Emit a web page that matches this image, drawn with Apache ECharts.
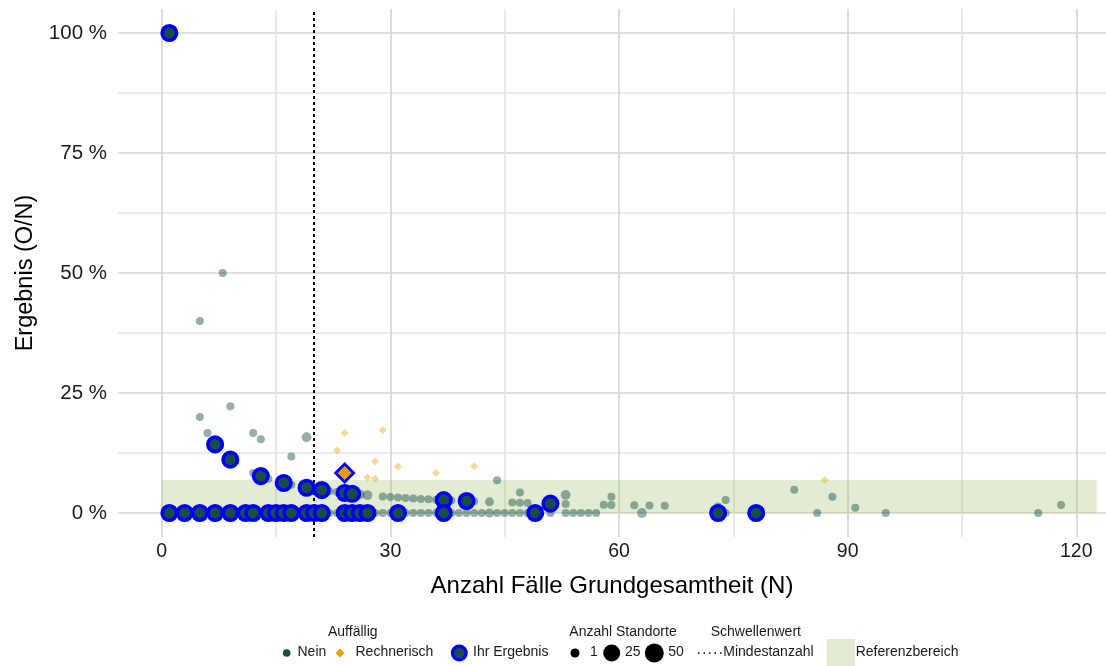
<!DOCTYPE html>
<html>
<head>
<meta charset="utf-8">
<script src="https://cdn.jsdelivr.net/npm/echarts@6/dist/echarts.min.js"></script>
<style>
html, body { margin: 0; padding: 0; background: #fff; }
#chart { width: 1106px; height: 666px; }
</style>
</head>
<body>
<div id="chart"></div>
<script>
// Achsen
var xTicks = [0, 15, 30, 45, 60, 75, 90, 105, 120];
var xLabels = [0, 30, 60, 90, 120];
var yTicks = [0, 12.5, 25, 37.5, 50, 62.5, 75, 87.5, 100];
var yLabels = [0, 25, 50, 75, 100];

// Schwellenwert und Referenzbereich
var mindestanzahl = 20;
var refLower = 0;
var refUpper = 6.9;
var refStartN = 0;
var refEndN = 122.7;

// andere Standorte, Auffällig = Nein
var otherN = [5, 8, 5, 9, 6, 12, 13, 19, 17, 12, 14, 17, 22, 23, 26, 27, 29, 30, 31, 32,
    33, 34, 35, 36, 38, 41, 43, 44, 46, 47, 47, 48, 53, 53, 58, 59, 59, 62, 64, 66,
    73, 74, 83, 88, 91, 118,
    1, 2, 3, 4, 5, 6, 7, 8, 9, 10, 11, 12, 13, 14, 15, 16, 17, 18, 19, 20, 21, 22, 23, 24,
    25, 26, 27, 28, 29, 30, 31, 32, 33, 34, 35, 36, 38, 39, 40, 41, 42, 43, 44, 45, 46, 47,
    48, 51, 53, 54, 55, 56, 57, 63, 74, 86, 95, 115];
var otherPct = [40, 50, 20, 22.22, 16.67, 16.67, 15.38, 15.79, 11.76, 8.33, 7.14, 5.88, 4.55, 4.35, 3.85, 3.7, 3.45, 3.33, 3.23, 3.13,
    3.03, 2.94, 2.86, 2.78, 2.63, 2.44, 2.33, 6.82, 2.17, 4.26, 2.13, 2.08, 3.77, 1.89, 1.72, 3.39, 1.69, 1.61, 1.56, 1.52,
    1.37, 2.7, 4.82, 3.41, 1.1, 1.69,
    0, 0, 0, 0, 0, 0, 0, 0, 0, 0, 0, 0, 0, 0, 0, 0, 0, 0, 0, 0, 0, 0, 0, 0,
    0, 0, 0, 0, 0, 0, 0, 0, 0, 0, 0, 0, 0, 0, 0, 0, 0, 0, 0, 0, 0, 0,
    0, 0, 0, 0, 0, 0, 0, 0, 0, 0, 0, 0];
var otherCount = [1, 1, 1, 1, 1, 1, 1, 3, 1, 1, 1, 1, 1, 1, 3, 3, 1, 1, 1, 1,
    1, 1, 1, 1, 1, 1, 2, 1, 1, 1, 1, 1, 3, 1, 1, 1, 1, 1, 1, 1,
    1, 1, 1, 1, 1, 1,
    1, 1, 1, 1, 1, 1, 1, 1, 1, 1, 1, 1, 1, 1, 1, 1, 1, 1, 1, 1, 1, 1, 1, 1,
    1, 1, 1, 1, 1, 1, 1, 1, 1, 1, 1, 1, 1, 1, 1, 1, 1, 2, 1, 1, 1, 1,
    1, 1, 1, 1, 1, 1, 1, 3, 1, 1, 1, 1];

// andere Standorte, rechnerisch auffällig
var rechnN = [23, 24, 28, 29, 31, 36, 27, 28, 41, 87];
var rechnPct = [13.04, 16.67, 10.71, 17.24, 9.68, 8.33, 7.41, 7.14, 9.76, 6.9];

// Ihr Ergebnis
var ownN = [1, 7, 9, 13, 16, 19, 21, 24, 25, 37, 40, 51,
    1, 3, 5, 7, 9, 11, 12, 14, 15, 16, 17, 19, 20, 21, 24, 25, 26, 27, 31, 37, 49, 73, 78,
    24];
var ownPct = [100, 14.29, 11.11, 7.69, 6.25, 5.26, 4.76, 4.17, 4, 2.7, 2.5, 1.96,
    0, 0, 0, 0, 0, 0, 0, 0, 0, 0, 0, 0, 0, 0, 0, 0, 0, 0, 0, 0, 0, 0, 0,
    8.33];
var ownFlag = ['Nein', 'Nein', 'Nein', 'Nein', 'Nein', 'Nein', 'Nein', 'Nein', 'Nein', 'Nein', 'Nein', 'Nein',
    'Nein', 'Nein', 'Nein', 'Nein', 'Nein', 'Nein', 'Nein', 'Nein', 'Nein', 'Nein', 'Nein', 'Nein', 'Nein',
    'Nein', 'Nein', 'Nein', 'Nein', 'Nein', 'Nein', 'Nein', 'Nein', 'Nein', 'Nein',
    'Rechnerisch'];

var colNein = '#184c45';
var colRechn = '#e69f00';
var colOwn = '#0000ff';
var font = 'Liberation Sans, Arial, sans-serif';

function zip(xs, ys) {
    return xs.map(function(x, i) { return [x, ys[i]]; });
}

function sizeOf(n) {
    return 5.6 + 2.4 * Math.sqrt(n);
}

var otherData = otherN.map(function(n, i) {
    return { value: [n, otherPct[i]], symbolSize: sizeOf(otherCount[i]) };
});

var ownData = ownN.map(function(n, i) {
    var r = ownFlag[i] === 'Rechnerisch';
    return {
        value: [n, ownPct[i]],
        symbol: r ? 'diamond' : 'circle',
        symbolSize: r ? 18 : 14.5,
        itemStyle: { color: r ? colRechn : colNein, borderColor: colOwn, borderWidth: r ? 2.8 : 3.6, opacity: 1 }
    };
});

var legendY = 653;
var titleY = 633;
var legendText = { fontSize: 14, fontFamily: font, fill: '#1a1a1a' };

function txt(x, y, s) {
    return { type: 'text', left: x, top: y - 8, style: Object.assign({ text: s }, legendText) };
}

var graphics = [
    txt(328, titleY, 'Auffällig'),
    { type: 'circle', shape: { cx: 286.7, cy: legendY, r: 3.8 }, style: { fill: colNein } },
    txt(297.5, legendY, 'Nein'),
    { type: 'polygon', shape: { points: [[340, legendY - 4.5], [344.5, legendY], [340, legendY + 4.5], [335.5, legendY]] }, style: { fill: colRechn } },
    txt(355.5, legendY, 'Rechnerisch'),
    { type: 'circle', shape: { cx: 459.3, cy: legendY, r: 6.9 }, style: { fill: colNein, stroke: colOwn, lineWidth: 3.2 } },
    txt(473, legendY, 'Ihr Ergebnis'),
    txt(569.3, titleY, 'Anzahl Standorte'),
    { type: 'circle', shape: { cx: 575, cy: legendY, r: 4.5 }, style: { fill: '#000' } },
    txt(590, legendY, '1'),
    { type: 'circle', shape: { cx: 611.7, cy: legendY, r: 8.5 }, style: { fill: '#000' } },
    txt(625, legendY, '25'),
    { type: 'circle', shape: { cx: 654.3, cy: legendY, r: 9.5 }, style: { fill: '#000' } },
    txt(668.3, legendY, '50'),
    txt(710.7, titleY, 'Schwellenwert'),
    { type: 'line', shape: { x1: 698, y1: legendY, x2: 722, y2: legendY }, style: { stroke: '#000', lineWidth: 1.5, lineDash: [1.5, 4] } },
    txt(723.3, legendY, 'Mindestanzahl'),
    { type: 'rect', shape: { x: 826.7, y: 639, width: 28.3, height: 27 }, style: { fill: 'rgba(158,192,108,0.3)' } },
    txt(855.7, legendY, 'Referenzbereich')
];

var chart = echarts.init(document.getElementById('chart'));
var option = {
    animation: false,
    backgroundColor: '#fff',
    textStyle: { fontFamily: font },
    grid: { left: 118, right: -6, top: 9, bottom: 129 },
    xAxis: {
        type: 'value',
        min: -5.74,
        max: 123.9,
        name: 'Anzahl Fälle Grundgesamtheit (N)',
        nameLocation: 'middle',
        nameGap: 37,
        nameTextStyle: { fontSize: 24, color: '#000', fontFamily: font },
        axisLine: { show: false },
        axisTick: { show: false, customValues: xTicks },
        axisLabel: { customValues: xLabels, fontSize: 19.5, color: '#1a1a1a', margin: 5, fontFamily: font },
        splitLine: { show: true, lineStyle: { color: ['#d4d4d4', '#e4e4e4'], width: 1.6 } }
    },
    yAxis: {
        type: 'value',
        min: -5,
        max: 105,
        name: 'Ergebnis (O/N)',
        nameLocation: 'middle',
        nameGap: 77,
        nameTextStyle: { fontSize: 23.5, color: '#000', fontFamily: font },
        axisLine: { show: false },
        axisTick: { show: false, customValues: yTicks },
        axisLabel: { customValues: yLabels, fontSize: 20.5, color: '#1a1a1a', margin: 11, fontFamily: font,
            formatter: function(v) { return v + ' %'; } },
        splitLine: { show: true, lineStyle: { color: ['#d4d4d4', '#e4e4e4'], width: 1.6 } }
    },
    graphic: graphics,
    series: [
        {
            name: 'Referenzbereich',
            type: 'scatter',
            data: [],
            z: 1,
            silent: true,
            markArea: {
                silent: true,
                itemStyle: { color: 'rgba(158,192,108,0.3)' },
                data: [[{ xAxis: refStartN, yAxis: refLower }, { xAxis: refEndN, yAxis: refUpper }]]
            }
        },
        {
            name: 'Nein',
            type: 'scatter',
            data: otherData,
            z: 3,
            itemStyle: { color: colNein, opacity: 0.45 }
        },
        {
            name: 'Rechnerisch',
            type: 'scatter',
            symbol: 'diamond',
            symbolSize: 8,
            data: zip(rechnN, rechnPct),
            z: 3,
            itemStyle: { color: colRechn, opacity: 0.4 }
        },
        {
            name: 'Ihr Ergebnis',
            type: 'scatter',
            data: ownData,
            z: 5,
            itemStyle: { opacity: 1 }
        },
        {
            name: 'Mindestanzahl',
            type: 'scatter',
            data: [],
            z: 6,
            silent: true,
            markLine: {
                silent: true,
                symbol: ['none', 'none'],
                label: { show: false },
                lineStyle: { color: '#000', width: 2, type: [3, 3] },
                data: [{ xAxis: mindestanzahl }]
            }
        }
    ]
};
chart.setOption(option);
</script>
</body>
</html>
